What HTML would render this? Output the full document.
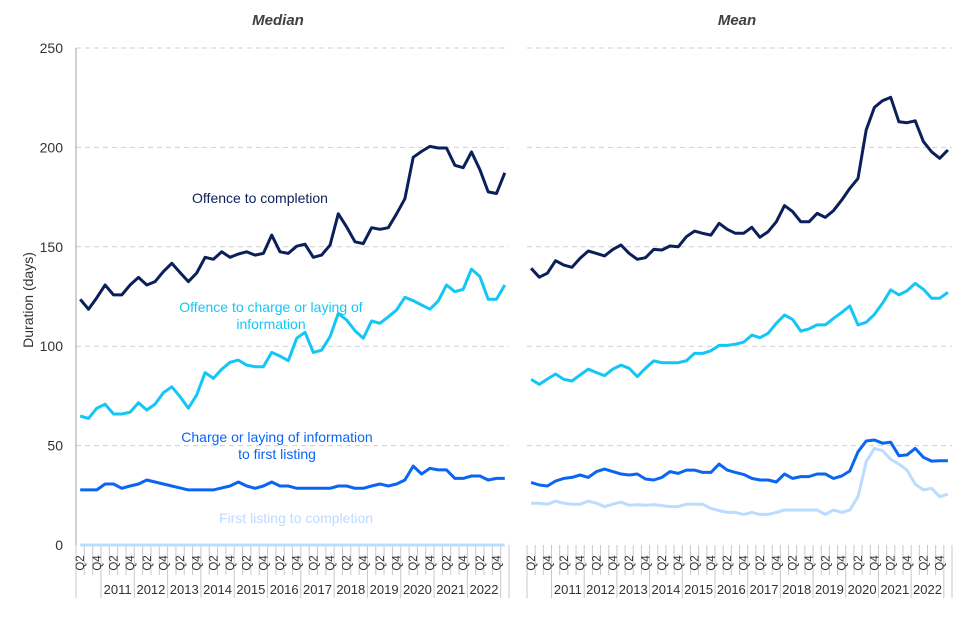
<!DOCTYPE html>
<html><head><meta charset="utf-8"><style>
html,body{margin:0;padding:0;background:#fff;}
svg{display:block;font-family:"Liberation Sans",sans-serif;}
</style></head><body>
<svg id="chart" width="960" height="640" viewBox="0 0 960 640"></svg>
<script>
const categoryCount = 52;
const yearLabels = ["2011","2012","2013","2014","2015","2016","2017","2018","2019","2020","2021","2022"];
const yTicks = [0,50,100,150,200,250];
const medianOffenceToCompletion = [123.6,118.6,124.4,130.8,125.8,125.8,130.8,134.6,130.8,132.5,137.5,141.7,137,132.5,136.8,144.7,143.7,147.5,144.7,146.4,147.5,145.8,146.7,155.9,147.5,146.7,150.3,151.3,144.7,145.8,150.8,166.6,160,152.5,151.6,159.6,158.8,159.6,166.6,174.2,195,198,200.5,199.7,199.7,191,189.8,197.7,188.8,177.6,176.8,187.2];
const medianOffenceToCharge = [64.9,63.7,68.8,70.8,65.9,65.9,66.8,71.6,67.9,70.9,76.6,79.6,74.6,68.8,75.5,86.7,83.8,88.4,91.9,93,90.5,89.7,89.7,96.9,95,92.7,104,107,96.9,98,104.8,116.5,113.2,107.8,104,112.7,111.5,114.8,118.2,124.6,122.9,120.7,118.6,122.7,130.8,127.4,128.6,138.8,135,123.6,123.6,130.8];
const medianChargeToListing = [27.7,27.7,27.7,30.7,30.7,28.5,29.7,30.7,32.7,31.7,30.7,29.7,28.7,27.7,27.7,27.7,27.7,28.7,29.7,31.7,29.7,28.5,29.7,31.7,29.7,29.7,28.5,28.5,28.5,28.5,28.5,29.7,29.7,28.5,28.5,29.7,30.7,29.7,30.7,32.7,39.7,35.7,38.6,37.8,37.8,33.5,33.5,34.7,34.7,32.7,33.5,33.5];
const medianListingToCompletion = [0,0,0,0,0,0,0,0,0,0,0,0,0,0,0,0,0,0,0,0,0,0,0,0,0,0,0,0,0,0,0,0,0,0,0,0,0,0,0,0,0,0,0,0,0,0,0,0,0,0,0,0];
const meanOffenceToCompletion = [139.2,134.7,136.7,143,140.8,139.7,144.2,147.9,146.7,145.4,148.7,150.9,146.7,143.7,144.5,148.7,148.4,150.4,150,155.1,157.9,156.8,155.9,161.8,158.8,156.8,156.8,159.8,154.8,157.6,162.6,170.7,167.7,162.6,162.6,166.8,164.8,168.2,173.5,179.4,184.4,208.8,220.1,223.5,225.2,212.9,212.4,213.4,202.9,197.8,194.5,198.7];
const meanOffenceToCharge = [83.3,80.8,83.5,86,83.3,82.5,85.5,88.5,86.7,85.2,88.5,90.5,88.9,84.7,88.9,92.6,91.7,91.7,91.7,92.7,96.4,96.4,97.7,100.4,100.4,101,102,105.6,104.3,106.5,111.5,115.7,113.5,107.6,108.7,110.7,110.7,114,117,120.2,110.7,112,116,121.6,128.3,125.8,127.8,131.6,128.6,124.1,124.1,127.1];
const meanChargeToListing = [31.5,30.2,29.7,32.2,33.5,34,35.2,34,36.9,38.2,36.9,35.7,35.2,35.7,33.2,32.7,34,36.9,36,37.7,37.7,36.5,36.5,40.7,37.7,36.5,35.5,33.5,32.7,32.7,31.7,35.7,33.5,34.4,34.4,35.7,35.7,33.5,34.7,37.2,46.9,52.3,52.8,51.2,51.7,44.9,45.3,48.6,44.1,42.2,42.4,42.4];
const meanListingToCompletion = [21,21,20.5,22.1,21,20.5,20.5,22.1,21,19.3,20.5,21.6,20,20.3,20,20.3,19.8,19.3,19.3,20.5,20.5,20.5,18.4,17.3,16.4,16.4,15.4,16.4,15.4,15.4,16.4,17.6,17.6,17.6,17.6,17.6,15.4,17.6,16.4,17.6,24.3,41.9,48.6,47.5,43.1,40.7,37.7,30.7,27.7,28.5,24.3,25.6];

const NS="http://www.w3.org/2000/svg";
const svg=document.getElementById('chart');
function mk(tag,attrs,parent){const e=document.createElementNS(NS,tag);for(const k in attrs)e.setAttribute(k,attrs[k]);(parent||svg).appendChild(e);return e;}
const Y0=545, Y250=48;
function yScale(v){return Y0-(v/250)*(Y0-Y250);}
const panels=[
 {name:'median',left:76,right:509,title:'Median',tx:278,series:[
   [medianListingToCompletion,'#bcdcff','first-listing-to-completion-line'],
   [medianChargeToListing,'#0a66f2','charge-to-first-listing-line'],
   [medianOffenceToCharge,'#14c6f6','offence-to-charge-line'],
   [medianOffenceToCompletion,'#0b1f5a','offence-to-completion-line']]},
 {name:'mean',left:527,right:952,title:'Mean',tx:737,series:[
   [meanListingToCompletion,'#bcdcff','first-listing-to-completion-line'],
   [meanChargeToListing,'#0a66f2','charge-to-first-listing-line'],
   [meanOffenceToCharge,'#14c6f6','offence-to-charge-line'],
   [meanOffenceToCompletion,'#0b1f5a','offence-to-completion-line']]}
];
panels.forEach((p,pi)=>{
  const g=mk('g',{});
  
  
  const bw=(p.right-p.left)/categoryCount;
  const xScale=i=>p.left+bw*(i+0.5);
  const t=mk('text',{x:p.tx,y:25,'text-anchor':'middle','font-size':15,'font-weight':'bold','font-style':'italic',fill:'#404040'},g);
  t.textContent=p.title;
  
  
  yTicks.forEach(v=>{
    if(v>0){
      const gl=mk('line',{x1:p.left,x2:p.right,y1:yScale(v),y2:yScale(v),stroke:'#d0d0d0','stroke-width':1,'stroke-dasharray':'5,4'},g);
      
      
    }
    if(pi===0){
      const tl=mk('text',{x:63,y:yScale(v)+5,'text-anchor':'end','font-size':14,fill:'#333'},g);
      tl.textContent=v;
      
      
    }
  });
  if(pi===0){
    const ax=mk('line',{x1:p.left,x2:p.left,y1:Y250,y2:Y0,stroke:'#a0a0a0','stroke-width':1},g);
    
    
  }
  // x axis ticks
  for(let i=0;i<=categoryCount;i++){
    const x=p.left+bw*i;
    const isYear=((i-3)%4===0)||i===0||i===categoryCount;
    const tk=mk('line',{x1:x,x2:x,y1:Y0,y2:isYear?598:575,stroke:'#c8c8c8','stroke-width':1},g);
    
    
  }
  for(let i=0;i<categoryCount;i+=2){
    const x=xScale(i);
    const ql=mk('text',{x:0,y:0,'text-anchor':'middle','font-size':11.5,fill:'#333',transform:`translate(${x+4},563) rotate(-90)`},g);
    ql.textContent=(i%4===0)?'Q2':'Q4';
    
    
  }
  yearLabels.forEach((yr,k)=>{
    const x=p.left+bw*(3+4*k+2);
    const yl=mk('text',{x:x,y:594,'text-anchor':'middle','font-size':13,fill:'#333'},g);
    yl.textContent=yr;
    
    
  });
  p.series.forEach(s=>{
    const d=s[0].map((v,i)=>(i?'L':'M')+xScale(i).toFixed(1)+','+yScale(v).toFixed(1)).join(' ');
    const pa=mk('path',{d:d,fill:'none',stroke:s[1],'stroke-width':3,'stroke-linejoin':'round'},g);
    
    
  });
});
// y axis title
const yt=mk('text',{x:0,y:0,'text-anchor':'middle','font-size':14,fill:'#333',transform:'translate(33,300) rotate(-90)'});
yt.textContent='Duration (days)';


// series annotations
const notes=[
 [['Offence to completion'],260,203,'#0b1f5a','label-offence-to-completion'],
 [['Offence to charge or laying of','information'],271,312,'#14c6f6','label-offence-to-charge'],
 [['Charge or laying of information','to first listing'],277,442,'#0a66f2','label-charge-to-first-listing'],
 [['First listing to completion'],296,523,'#bcdcff','label-first-listing-to-completion']
];
notes.forEach(n=>{
  const t=mk('text',{x:n[1],y:n[2],'text-anchor':'middle','font-size':14,fill:n[3]});
  n[0].forEach((line,i)=>{const ts=mk('tspan',{x:n[1],dy:i?17:0},t);ts.textContent=line;});
  
  
});
</script>
</body></html>
